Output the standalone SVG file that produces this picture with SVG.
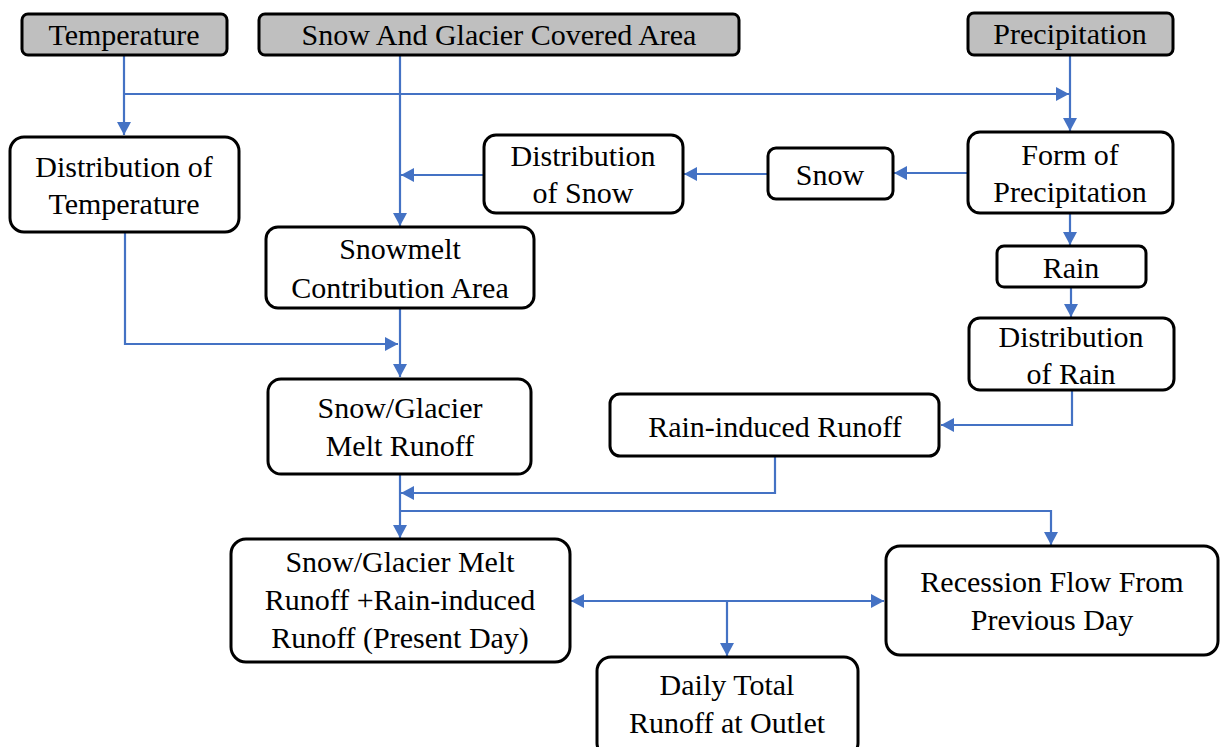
<svg xmlns="http://www.w3.org/2000/svg" width="1220" height="747" viewBox="0 0 1220 747">
<defs>
<style>
.g rect{fill:#bfbfbf;stroke:#000;stroke-width:3}
.w rect{fill:#fff;stroke:#000;stroke-width:3}
.c line,.c polyline{stroke:#4472c4;stroke-width:2.2;fill:none}
</style>
<marker id="a" viewBox="0 0 13 14" refX="13" refY="7" markerWidth="13" markerHeight="14" markerUnits="userSpaceOnUse" orient="auto-start-reverse">
<path d="M0,0L13,7L0,14Z" fill="#4472c4"/>
</marker>
</defs>
<rect width="1220" height="747" fill="#fff"/>
<g class="c" id="connectors">
<line x1="124" y1="55" x2="124" y2="135" marker-end="url(#a)"/>
<line x1="124" y1="94" x2="1069" y2="94" marker-end="url(#a)"/>
<line x1="1070" y1="55" x2="1070" y2="131" marker-end="url(#a)"/>
<line x1="400" y1="55" x2="400" y2="226" marker-end="url(#a)"/>
<line x1="484" y1="175" x2="401" y2="175" marker-end="url(#a)"/>
<line x1="768" y1="174" x2="684" y2="174" marker-end="url(#a)"/>
<line x1="968" y1="173" x2="894" y2="173" marker-end="url(#a)"/>
<line x1="1070" y1="213" x2="1070" y2="245" marker-end="url(#a)"/>
<line x1="1071" y1="287" x2="1071" y2="317" marker-end="url(#a)"/>
<polyline points="1072,390 1072,425 941,425" marker-end="url(#a)"/>
<polyline points="125,232 125,344 398,344" marker-end="url(#a)"/>
<line x1="400" y1="308" x2="400" y2="377" marker-end="url(#a)"/>
<line x1="400" y1="474" x2="400" y2="538" marker-end="url(#a)"/>
<polyline points="775,456 775,493 401,493" marker-end="url(#a)"/>
<polyline points="400,511 1051,511 1051,545" marker-end="url(#a)"/>
<line x1="571" y1="601" x2="884" y2="601" marker-start="url(#a)" marker-end="url(#a)"/>
<line x1="727" y1="601" x2="727" y2="656" marker-end="url(#a)"/>
</g>
<g id="temperature" class="g"><rect x="22" y="14" width="205" height="41" rx="6"/><text font-family="Liberation Serif" font-size="30" text-anchor="middle" x="124" y="45">Temperature</text></g>
<g id="snow-glacier-area" class="g"><rect x="259" y="14" width="480" height="41" rx="6"/><text font-family="Liberation Serif" font-size="30" text-anchor="middle" x="499" y="45">Snow And Glacier Covered Area</text></g>
<g id="precipitation" class="g"><rect x="968" y="13" width="205" height="42" rx="6"/><text font-family="Liberation Serif" font-size="30" text-anchor="middle" x="1070" y="44">Precipitation</text></g>
<g id="dist-temperature" class="w"><rect x="10" y="137" width="229" height="95" rx="14"/><text font-family="Liberation Serif" font-size="30" text-anchor="middle" x="124" y="177">Distribution of</text><text font-family="Liberation Serif" font-size="30" text-anchor="middle" x="124" y="214">Temperature</text></g>
<g id="dist-snow" class="w"><rect x="484" y="135" width="199" height="78" rx="12"/><text font-family="Liberation Serif" font-size="30" text-anchor="middle" x="583" y="166">Distribution</text><text font-family="Liberation Serif" font-size="30" text-anchor="middle" x="583" y="203">of Snow</text></g>
<g id="snow" class="w"><rect x="768" y="148" width="125" height="51" rx="8"/><text font-family="Liberation Serif" font-size="30" text-anchor="middle" x="830" y="185">Snow</text></g>
<g id="form-precip" class="w"><rect x="968" y="132" width="205" height="81" rx="12"/><text font-family="Liberation Serif" font-size="30" text-anchor="middle" x="1070" y="165">Form of</text><text font-family="Liberation Serif" font-size="30" text-anchor="middle" x="1070" y="202">Precipitation</text></g>
<g id="snowmelt-area" class="w"><rect x="266" y="227" width="268" height="81" rx="12"/><text font-family="Liberation Serif" font-size="30" text-anchor="middle" x="400" y="259">Snowmelt</text><text font-family="Liberation Serif" font-size="30" text-anchor="middle" x="400" y="298">Contribution Area</text></g>
<g id="rain" class="w"><rect x="997" y="246" width="149" height="41" rx="7"/><text font-family="Liberation Serif" font-size="30" text-anchor="middle" x="1071" y="278">Rain</text></g>
<g id="dist-rain" class="w"><rect x="969" y="318" width="205" height="72" rx="11"/><text font-family="Liberation Serif" font-size="30" text-anchor="middle" x="1071" y="347">Distribution</text><text font-family="Liberation Serif" font-size="30" text-anchor="middle" x="1071" y="384">of Rain</text></g>
<g id="melt-runoff" class="w"><rect x="268" y="379" width="263" height="95" rx="13"/><text font-family="Liberation Serif" font-size="30" text-anchor="middle" x="400" y="418">Snow/Glacier</text><text font-family="Liberation Serif" font-size="30" text-anchor="middle" x="400" y="456">Melt Runoff</text></g>
<g id="rain-runoff" class="w"><rect x="610" y="394" width="329" height="62" rx="10"/><text font-family="Liberation Serif" font-size="30" text-anchor="middle" x="775" y="437">Rain-induced Runoff</text></g>
<g id="present-day" class="w"><rect x="231" y="539" width="339" height="123" rx="15"/><text font-family="Liberation Serif" font-size="30" text-anchor="middle" x="400" y="572">Snow/Glacier Melt</text><text font-family="Liberation Serif" font-size="30" text-anchor="middle" x="400" y="610">Runoff +Rain-induced</text><text font-family="Liberation Serif" font-size="30" text-anchor="middle" x="400" y="648">Runoff (Present Day)</text></g>
<g id="recession" class="w"><rect x="886" y="546" width="332" height="109" rx="14"/><text font-family="Liberation Serif" font-size="30" text-anchor="middle" x="1052" y="592">Recession Flow From</text><text font-family="Liberation Serif" font-size="30" text-anchor="middle" x="1052" y="630">Previous Day</text></g>
<g id="daily-total" class="w"><rect x="597" y="657" width="261" height="100" rx="14"/><text font-family="Liberation Serif" font-size="30" text-anchor="middle" x="727" y="695">Daily Total</text><text font-family="Liberation Serif" font-size="30" text-anchor="middle" x="727" y="733">Runoff at Outlet</text></g>
</svg>
